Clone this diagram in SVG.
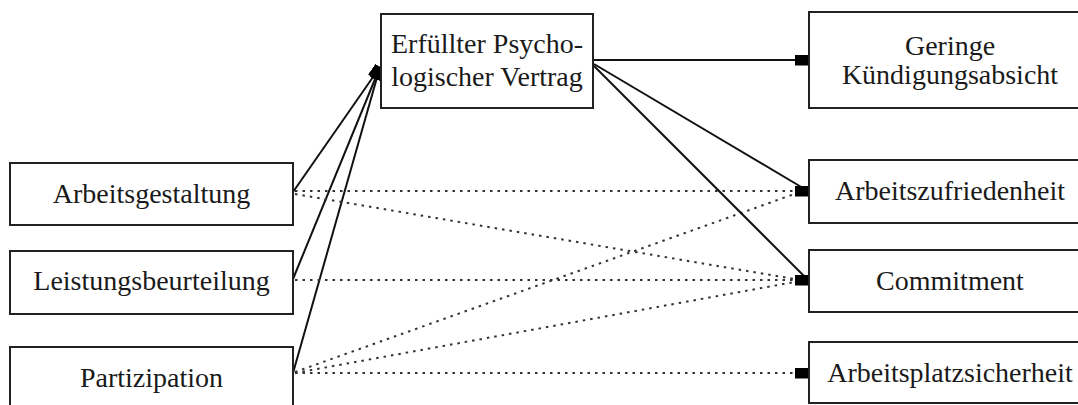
<svg xmlns="http://www.w3.org/2000/svg" width="1078" height="405" viewBox="0 0 1078 405">
  <style>
    .box { fill: #fff; stroke: #222; stroke-width: 2; }
    .lbl { font-family: "Liberation Serif", "Times New Roman", serif; font-size: 28px; fill: #1a1a1a; text-anchor: middle; }
    .solid { stroke: #111; stroke-width: 2; fill: none; }
    .dot { stroke: #333; stroke-width: 2; fill: none; stroke-dasharray: 2.5 5; }
  </style>
  <defs>
    <!-- square end that follows the line direction -->
    <marker id="sq" viewBox="0 0 13 11" refX="13" refY="5.5" markerWidth="13" markerHeight="11" markerUnits="userSpaceOnUse" orient="auto">
      <rect x="0" y="0" width="13" height="11" fill="#000"/>
    </marker>
    <!-- square end that stays level against a box edge -->
    <marker id="sqh" viewBox="0 0 13 11" refX="13" refY="5.5" markerWidth="13" markerHeight="11" markerUnits="userSpaceOnUse" orient="0">
      <rect x="0" y="0" width="13" height="11" fill="#000"/>
    </marker>
  </defs>
  <rect width="1078" height="405" fill="#fff"/>

  <!-- connectors -->
  <g id="connectors">
    <!-- antecedents to psychological contract -->
    <line class="solid" x1="293" y1="192" x2="380" y2="67" marker-end="url(#sq)"/>
    <line class="solid" x1="293" y1="279" x2="380" y2="67" marker-end="url(#sq)"/>
    <line class="solid" x1="293" y1="373" x2="380" y2="67" marker-end="url(#sq)"/>
    <!-- direct effects -->
    <line class="dot" x1="295" y1="191" x2="800" y2="191"/>
    <line class="dot" x1="295" y1="194" x2="800" y2="280"/>
    <line class="dot" x1="295" y1="280" x2="800" y2="280"/>
    <line class="dot" x1="295" y1="372" x2="800" y2="192"/>
    <line class="dot" x1="295" y1="373" x2="800" y2="281"/>
    <line class="dot" x1="295" y1="373" x2="800" y2="373"/>
    <!-- psychological contract to outcomes -->
    <line class="solid" x1="593" y1="60" x2="808" y2="60" marker-end="url(#sqh)"/>
    <line class="solid" x1="594" y1="64" x2="808" y2="191" marker-end="url(#sqh)"/>
    <line class="solid" x1="594" y1="66" x2="808" y2="280" marker-end="url(#sqh)"/>
    <line class="solid" x1="806" y1="373" x2="808" y2="373" marker-end="url(#sqh)"/>
  </g>

  <g id="arbeitsgestaltung">
    <rect class="box" x="10" y="163" width="283" height="62"/>
    <text class="lbl" x="151.5" y="203">Arbeitsgestaltung</text>
  </g>
  <g id="leistungsbeurteilung">
    <rect class="box" x="10" y="251" width="283" height="63"/>
    <text class="lbl" x="151.5" y="290">Leistungsbeurteilung</text>
  </g>
  <g id="partizipation">
    <rect class="box" x="10" y="347" width="283" height="63"/>
    <text class="lbl" x="151.5" y="387">Partizipation</text>
  </g>

  <g id="psych-vertrag">
    <rect class="box" x="381" y="14" width="212" height="94"/>
    <text class="lbl" x="487" y="53">Erfüllter Psycho-</text>
    <text class="lbl" x="487" y="86">logischer Vertrag</text>
  </g>

  <g id="kuendigungsabsicht">
    <rect class="box" x="809" y="12" width="285" height="96"/>
    <text class="lbl" x="950" y="55">Geringe</text>
    <text class="lbl" x="950" y="84">Kündigungsabsicht</text>
  </g>
  <g id="arbeitszufriedenheit">
    <rect class="box" x="809" y="160" width="285" height="63"/>
    <text class="lbl" x="950" y="200">Arbeitszufriedenheit</text>
  </g>
  <g id="commitment">
    <rect class="box" x="809" y="250" width="285" height="62"/>
    <text class="lbl" x="950" y="290">Commitment</text>
  </g>
  <g id="arbeitsplatzsicherheit">
    <rect class="box" x="809" y="342" width="285" height="61"/>
    <text class="lbl" x="950" y="382">Arbeitsplatzsicherheit</text>
  </g>
</svg>
